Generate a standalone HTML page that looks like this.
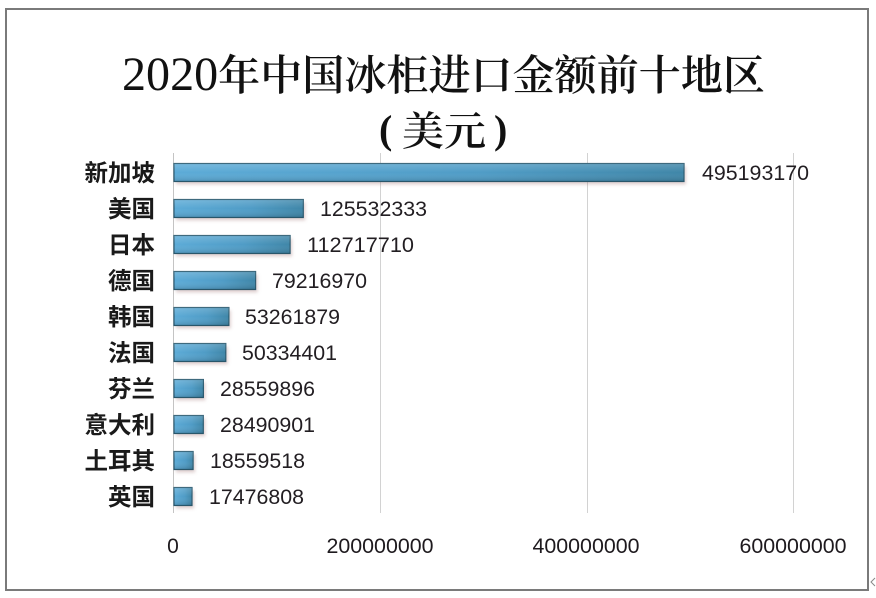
<!DOCTYPE html>
<html>
<head>
<meta charset="utf-8">
<style>
  html, body { margin: 0; padding: 0; background: #ffffff; }
  body { width: 876px; height: 598px; overflow: hidden; }
  svg { display: block; }
</style>
</head>
<body>
<svg width="876" height="598" viewBox="0 0 876 598" xmlns="http://www.w3.org/2000/svg">
  <defs>
    <linearGradient id="barH" x1="0" y1="0" x2="1" y2="0">
      <stop offset="0" stop-color="#5cabd7"/>
      <stop offset="0.6" stop-color="#4f9cc6"/>
      <stop offset="1" stop-color="#3f86a8"/>
    </linearGradient>
    <linearGradient id="barV" x1="0" y1="0" x2="0" y2="1">
      <stop offset="0" stop-color="#ffffff" stop-opacity="0.18"/>
      <stop offset="0.5" stop-color="#ffffff" stop-opacity="0"/>
      <stop offset="1" stop-color="#000000" stop-opacity="0.15"/>
    </linearGradient>
    <filter id="shadow" x="-10%" y="-50%" width="130%" height="250%">
      <feGaussianBlur stdDeviation="1.6"/>
    </filter>
  </defs>

  <rect x="0" y="0" width="876" height="598" fill="#ffffff"/>
  <rect x="6" y="9" width="862" height="581" fill="#ffffff" stroke="#7a7a7a" stroke-width="2"/>

  <!-- title -->
  <text x="122" y="90" textLength="643" lengthAdjust="spacingAndGlyphs"
        font-family="'Liberation Serif','Noto Serif CJK SC',serif" font-weight="600" font-size="42" fill="#111">
    <tspan font-size="48" font-weight="normal">2020</tspan>年中国冰柜进口金额前十地区</text>
  <g font-family="'Liberation Serif','Noto Serif CJK SC',serif" font-weight="600" font-size="40" fill="#111">
    <text x="379" y="143">(</text>
    <text x="402" y="145" textLength="84" lengthAdjust="spacingAndGlyphs">美元</text>
    <text x="494" y="143">)</text>
  </g>

  <!-- gridlines -->
  <g stroke="#d2d2d2" stroke-width="1">
    <line x1="380.5" y1="153" x2="380.5" y2="513"/>
    <line x1="587.5" y1="153" x2="587.5" y2="513"/>
    <line x1="793.5" y1="153" x2="793.5" y2="513"/>
  </g>
  <line x1="173.5" y1="153" x2="173.5" y2="513" stroke="#c4c4c4" stroke-width="1"/>

  <!-- bars -->
  <g>
    <g fill="#9a6e6e" fill-opacity="0.32" filter="url(#shadow)">
      <rect x="176" y="166.5" width="510" height="18"/>
      <rect x="176" y="202.5" width="129.3" height="18"/>
      <rect x="176" y="238.5" width="116.1" height="18"/>
      <rect x="176" y="274.5" width="81.6" height="18"/>
      <rect x="176" y="310.5" width="54.9" height="18"/>
      <rect x="176" y="346.5" width="51.8" height="18"/>
      <rect x="176" y="382.5" width="29.4" height="18"/>
      <rect x="176" y="418.5" width="29.3" height="18"/>
      <rect x="176" y="454.5" width="19.1" height="18"/>
      <rect x="176" y="490.5" width="18.0" height="18"/>
    </g>
    <g stroke="#2c5c72" stroke-width="1.2" fill="url(#barH)">
      <rect x="174" y="163.5" width="510" height="18"/>
      <rect x="174" y="199.5" width="129.3" height="18"/>
      <rect x="174" y="235.5" width="116.1" height="18"/>
      <rect x="174" y="271.5" width="81.6" height="18"/>
      <rect x="174" y="307.5" width="54.9" height="18"/>
      <rect x="174" y="343.5" width="51.8" height="18"/>
      <rect x="174" y="379.5" width="29.4" height="18"/>
      <rect x="174" y="415.5" width="29.3" height="18"/>
      <rect x="174" y="451.5" width="19.1" height="18"/>
      <rect x="174" y="487.5" width="18.0" height="18"/>
    </g>
    <g fill="url(#barV)">
      <rect x="174" y="163.5" width="510" height="18"/>
      <rect x="174" y="199.5" width="129.3" height="18"/>
      <rect x="174" y="235.5" width="116.1" height="18"/>
      <rect x="174" y="271.5" width="81.6" height="18"/>
      <rect x="174" y="307.5" width="54.9" height="18"/>
      <rect x="174" y="343.5" width="51.8" height="18"/>
      <rect x="174" y="379.5" width="29.4" height="18"/>
      <rect x="174" y="415.5" width="29.3" height="18"/>
      <rect x="174" y="451.5" width="19.1" height="18"/>
      <rect x="174" y="487.5" width="18.0" height="18"/>
    </g>
  </g>

  <!-- category labels -->
  <g font-family="'Liberation Sans','Noto Sans CJK SC',sans-serif" font-weight="bold" font-size="23.5" fill="#1a1a1a" text-anchor="end">
    <text x="155" y="181">新加坡</text>
    <text x="155" y="217">美国</text>
    <text x="155" y="253">日本</text>
    <text x="155" y="289">德国</text>
    <text x="155" y="325">韩国</text>
    <text x="155" y="361">法国</text>
    <text x="155" y="397">芬兰</text>
    <text x="155" y="433">意大利</text>
    <text x="155" y="469">土耳其</text>
    <text x="155" y="505">英国</text>
  </g>

  <!-- value labels -->
  <g font-family="'Liberation Sans',sans-serif" font-size="21" fill="#221e22">
    <text x="702" y="180" textLength="107" lengthAdjust="spacingAndGlyphs">495193170</text>
    <text x="320" y="216" textLength="107" lengthAdjust="spacingAndGlyphs">125532333</text>
    <text x="307" y="252" textLength="107" lengthAdjust="spacingAndGlyphs">112717710</text>
    <text x="272" y="288" textLength="95" lengthAdjust="spacingAndGlyphs">79216970</text>
    <text x="245" y="324" textLength="95" lengthAdjust="spacingAndGlyphs">53261879</text>
    <text x="242" y="360" textLength="95" lengthAdjust="spacingAndGlyphs">50334401</text>
    <text x="220" y="396" textLength="95" lengthAdjust="spacingAndGlyphs">28559896</text>
    <text x="220" y="432" textLength="95" lengthAdjust="spacingAndGlyphs">28490901</text>
    <text x="210" y="468" textLength="95" lengthAdjust="spacingAndGlyphs">18559518</text>
    <text x="209" y="504" textLength="95" lengthAdjust="spacingAndGlyphs">17476808</text>
  </g>

  <!-- axis labels -->
  <g font-family="'Liberation Sans',sans-serif" font-size="21" fill="#1e1a1e" text-anchor="middle">
    <text x="173" y="553">0</text>
    <text x="380" y="553" textLength="107" lengthAdjust="spacingAndGlyphs">200000000</text>
    <text x="586" y="553" textLength="107" lengthAdjust="spacingAndGlyphs">400000000</text>
    <text x="793" y="553" textLength="107" lengthAdjust="spacingAndGlyphs">600000000</text>
  </g>

  <path d="M875 578 L871 582 L875 586" fill="none" stroke="#888" stroke-width="1"/>
</svg>
</body>
</html>
